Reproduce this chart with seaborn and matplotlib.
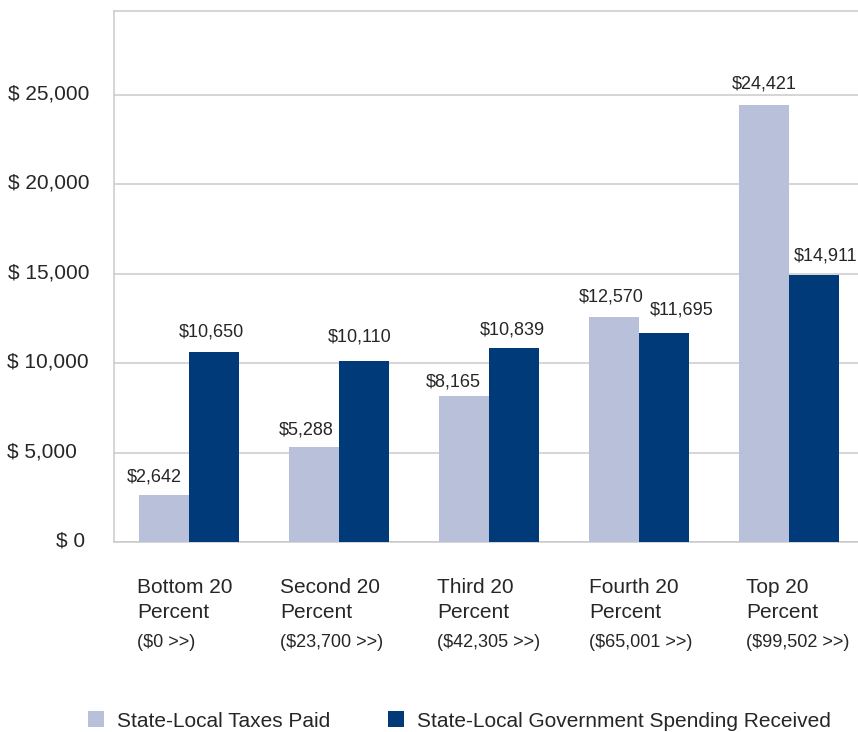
import numpy as np
import pandas as pd
import matplotlib
matplotlib.use("Agg")
import matplotlib.pyplot as plt
import matplotlib.transforms as mtransforms
import seaborn as sns

# Income quintiles (two-line names) and their income ranges
quintiles = ["Bottom 20\nPercent", "Second 20\nPercent", "Third 20\nPercent",
             "Fourth 20\nPercent", "Top 20\nPercent"]
income_ranges = ["($0 >>)", "($23,700 >>)", "($42,305 >>)",
                 "($65,001 >>)", "($99,502 >>)"]

series_names = ["State-Local Taxes Paid",
                "State-Local Government Spending Received"]
taxes_paid = [2642, 5288, 8165, 12570, 24421]
spending_received = [10650, 10110, 10839, 11695, 14911]

y_ticks = [0, 5000, 10000, 15000, 20000, 25000]
y_tick_labels = ["$ 0", "$ 5,000", "$ 10,000", "$ 15,000", "$ 20,000", "$ 25,000"]

# Styling
LIGHT = "#B8C0DA"
DARK = "#003A79"
GRID = "#CACACA"
TEXT = "#262626"

df = pd.DataFrame({
    "quintile": quintiles * 2,
    "series": [series_names[0]] * len(quintiles) + [series_names[1]] * len(quintiles),
    "value": taxes_paid + spending_received,
})

sns.set_theme(style="white")
plt.rcParams["font.family"] = ["Liberation Sans", "DejaVu Sans"]
plt.rcParams["text.color"] = TEXT

DPI = 100
fig = plt.figure(figsize=(8.58, 7.32), dpi=DPI)
W, H = 858, 732
ax = fig.add_axes([114 / W, (H - 542) / H, 750 / W, 531 / H])

sns.barplot(data=df, x="quintile", y="value", hue="series",
            palette=[LIGHT, DARK], width=2 / 3, saturation=1,
            linewidth=0, ax=ax, zorder=3)

ax.set_xlim(-0.5, 4.5)
ax.set_ylim(0, 29700)
ax.set_xlabel("")
ax.set_ylabel("")

# Grid and frame
ax.set_yticks(y_ticks)
ax.yaxis.grid(True, color=GRID, linewidth=1.1, zorder=0)
ax.xaxis.grid(False)
ax.set_axisbelow(True)
for side in ["left", "top", "bottom"]:
    ax.spines[side].set_color(GRID)
    ax.spines[side].set_linewidth(1.1)
ax.spines["right"].set_visible(False)

ax.set_yticklabels(y_tick_labels)
ax.tick_params(axis="y", length=0, pad=18, labelsize=15, labelcolor=TEXT)
ax.tick_params(axis="x", length=0, labelbottom=False)

# small per-label nudges of the y labels (pixels)
y_label_nudge = [-4, -12, 0, 0, 0, 0]
for lab, dx in zip(ax.get_yticklabels(), y_label_nudge):
    lab.set_transform(lab.get_transform() +
                      mtransforms.ScaledTranslation(dx / DPI, 3 / DPI, fig.dpi_scale_trans))

# Value labels above bars
label_dx = [[-10, -8, -11, -3, 0], [-3, -4, -2, 18, 12]]
label_dy = [[13, 13, 10, 16, 17], [15, 20, 14, 18, 15]]
for s, (container, values) in enumerate(zip(ax.containers, [taxes_paid, spending_received])):
    for i, (bar, v) in enumerate(zip(container, values)):
        xc = bar.get_x() + bar.get_width() / 2
        ax.annotate(f"${v:,}", xy=(xc, v), xytext=(label_dx[s][i], label_dy[s][i]),
                    textcoords="offset pixels", ha="center", va="baseline",
                    fontsize=13, color=TEXT, annotation_clip=False)

# Category labels below the axis
cat_dx = [-52, -59, -52, -50, -43]
for i, (name, rng) in enumerate(zip(quintiles, income_ranges)):
    line1, line2 = name.split("\n")
    for txt, dy, fs in [(line1, -51, 15), (line2, -76, 15), (rng, -105, 13)]:
        ax.annotate(txt, xy=(i, 0), xycoords=("data", "axes fraction"),
                    xytext=(cat_dx[i], dy), textcoords="offset pixels",
                    ha="left", va="baseline", fontsize=fs, color=TEXT,
                    annotation_clip=False)

# Legend along the bottom
handles, labels = ax.get_legend_handles_labels()
if ax.legend_ is not None:
    ax.legend_.remove()
fig.legend(handles, labels, loc="center left",
           bbox_to_anchor=(88 / W, 1 - 721 / H), ncol=2, frameon=False,
           fontsize=15, handlelength=0.77, handleheight=0.77,
           handletextpad=0.6, columnspacing=2.8, borderpad=0,
           borderaxespad=0)

fig.savefig("out.png", dpi=DPI)
